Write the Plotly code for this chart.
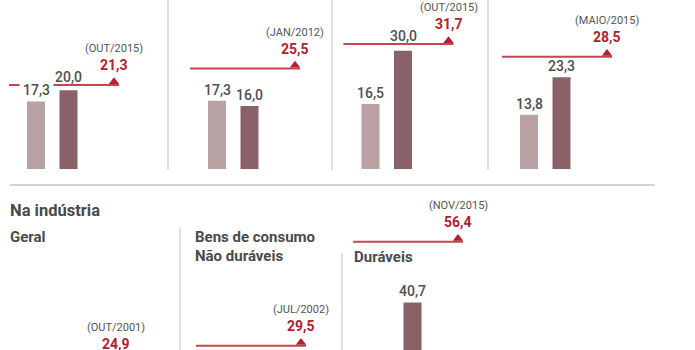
import plotly.graph_objects as go

# ---------------- data ----------------
top_light = [17.3, 17.3, 16.5, 13.8]
top_dark = [20.0, 16.0, 30.0, 23.3]
top_peak = [21.3, 25.5, 31.7, 28.5]
top_peak_dates = ["(OUT/2015)", "(JAN/2012)", "(OUT/2015)", "(MAIO/2015)"]

bottom_panels = ["Geral", "Não duráveis", "Duráveis"]
bottom_peak = [24.9, 29.5, 56.4]
bottom_peak_dates = ["(OUT/2001)", "(JUL/2002)", "(NOV/2015)"]
bottom_dark = [None, None, 40.7]

# ---------------- style / layout ----------------
W, H = 695, 350
FONT = "Roboto"
LIGHT = "#b9a2a4"
DARK = "#8a6167"
RED_LINE = "#c8444c"
RED_TXT = "#b32030"
GREY_TXT = "#555555"
NUM_TXT = "#4f4f4f"
TITLE_TXT = "#4a4a4a"
SEP = "#d4d4d4"

PXU_TOP, BASE_TOP = 3.94, 169
PXU_BOT, BASE_BOT, BOT_TOP = 3.87, 460, 190
U = 32.5                      # px per x unit
BW = 18 / U                   # bar width in x units
LX0, LX1, MX = -27 / U, 83 / U, 78 / U
top_origins = [36, 217, 370.5, 529]
bot_origins = [38, 223, 380]


def fmt(v):
    return f"{v:.1f}".replace(".", ",")


fig = go.Figure()
layout = dict(
    width=W, height=H, margin=dict(l=0, r=0, t=0, b=0),
    paper_bgcolor="white", plot_bgcolor="white", showlegend=False,
    font=dict(family=FONT, color=GREY_TXT),
    yaxis=dict(domain=[1 - BASE_TOP / H, 1], range=[0, BASE_TOP / PXU_TOP],
               visible=False, fixedrange=True),
    yaxis2=dict(domain=[0, 1 - BOT_TOP / H],
                range=[(BASE_BOT - H) / PXU_BOT, (BASE_BOT - BOT_TOP) / PXU_BOT],
                visible=False, fixedrange=True),
)
annotations = []
shapes = []


def add_panel(idx, origin, yname, pxu, light, dark, peak, date):
    xname = "x" if idx == 1 else f"x{idx}"
    layout["xaxis" if idx == 1 else f"xaxis{idx}"] = dict(
        domain=[(origin - U) / W, (origin + 3 * U) / W], range=[-1, 3],
        visible=False, fixedrange=True)
    if light is not None:
        fig.add_trace(go.Bar(x=[0], y=[light], width=BW, marker_color=LIGHT,
                             marker_line_width=0, xaxis=xname, yaxis=yname))
    if dark is not None:
        fig.add_trace(go.Bar(x=[1], y=[dark], width=BW, marker_color=DARK,
                             marker_line_width=0, xaxis=xname, yaxis=yname))
    fig.add_trace(go.Scatter(x=[LX0, LX1], y=[peak, peak], mode="lines",
                             line=dict(color=RED_LINE, width=2),
                             xaxis=xname, yaxis=yname))
    fig.add_trace(go.Scatter(x=[MX], y=[peak + 3.3 / pxu], mode="markers",
                             marker=dict(symbol="triangle-up", size=9,
                                         color=RED_TXT),
                             xaxis=xname, yaxis=yname))
    for xi, v in ((0, light), (1, dark)):
        if v is None:
            continue
        ylab = v + 11 / pxu
        diff = (ylab - peak) * pxu       # px, positive = label above line
        mask = False
        if 0 < diff < 8:
            ylab = peak + 8 / pxu        # lift label clear of the line
        elif -8 < diff <= 0:
            mask = True                  # line runs behind the label
        annotations.append(dict(
            x=xi, y=ylab, xref=xname, yref=yname, text=fmt(v),
            showarrow=False, xanchor="center", yanchor="middle",
            font=dict(size=14, color=NUM_TXT, family=FONT, weight=500),
            bgcolor="white" if mask else "rgba(0,0,0,0)", borderpad=3))
    annotations.append(dict(
        x=MX, y=peak + 20 / pxu, xref=xname, yref=yname,
        text=f"<b>{fmt(peak)}</b>", showarrow=False, xanchor="center",
        yanchor="middle", font=dict(size=14, color=RED_TXT, family=FONT)))
    annotations.append(dict(
        x=MX, y=peak + 36.5 / pxu, xref=xname, yref=yname, text=date,
        showarrow=False, xanchor="center", yanchor="middle",
        font=dict(size=11, color=GREY_TXT, family=FONT)))


for i in range(4):
    add_panel(i + 1, top_origins[i], "y", PXU_TOP, top_light[i], top_dark[i],
              top_peak[i], top_peak_dates[i])
for j in range(3):
    add_panel(5 + j, bot_origins[j], "y2", PXU_BOT, None, bottom_dark[j],
              bottom_peak[j], bottom_peak_dates[j])

# separators
for xs in (168, 332, 488):
    shapes.append(dict(type="line", xref="paper", yref="paper",
                       x0=xs / W, x1=xs / W, y0=1, y1=1 - 170 / H,
                       line=dict(color=SEP, width=1.5)))
shapes.append(dict(type="line", xref="paper", yref="paper",
                   x0=10 / W, x1=655 / W, y0=1 - 185 / H, y1=1 - 185 / H,
                   line=dict(color=SEP, width=2)))
shapes.append(dict(type="line", xref="paper", yref="paper",
                   x0=180 / W, x1=180 / W, y0=1 - 228 / H, y1=0,
                   line=dict(color=SEP, width=1.5)))
shapes.append(dict(type="line", xref="paper", yref="paper",
                   x0=342 / W, x1=342 / W, y0=1 - 253 / H, y1=0,
                   line=dict(color=SEP, width=1.5)))

# titles
titles = [("Na indústria", 8, 210, 16.5), (bottom_panels[0], 8, 237, 15),
          ("Bens de consumo", 193, 237, 15), (bottom_panels[1], 193, 256, 15),
          (bottom_panels[2], 352, 257, 15)]
for t, xp, yp, fs in titles:
    annotations.append(dict(
        x=xp / W, y=1 - yp / H, xref="paper", yref="paper", text=f"<b>{t}</b>",
        showarrow=False, xanchor="left", yanchor="middle",
        font=dict(size=fs, color=TITLE_TXT, family=FONT)))

layout["annotations"] = annotations
layout["shapes"] = shapes
fig.update_layout(**layout)
fig.write_html("out.html")
